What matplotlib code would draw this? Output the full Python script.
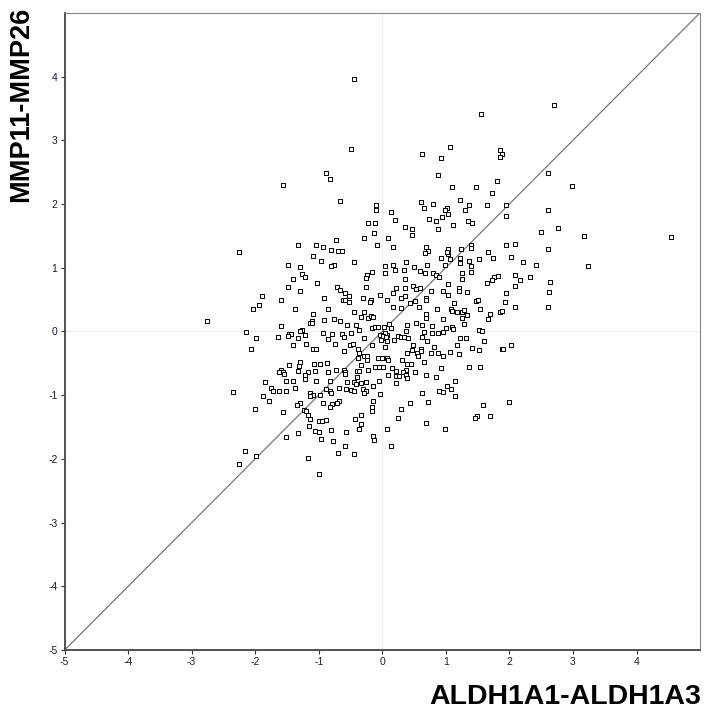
import matplotlib
matplotlib.use("Agg")
import matplotlib.pyplot as plt

plt.rcParams["axes.unicode_minus"] = False
plt.rcParams["font.family"] = ["Liberation Sans", "DejaVu Sans"]

# point coordinates (ALDH1A1-ALDH1A3 vs MMP11-MMP26)
x_vals = [
    -0.44, -0.50, -0.88, -0.83, -1.57, -0.66, -0.10, -0.10, 0.14, 0.20, -0.23, -0.11, 0.36, 0.46,
    2.70, 1.55, 1.07, 0.63, 0.93, 1.86, 1.88, 1.86, 0.87, 2.61, 2.98, 1.10, 1.47, 1.80, 1.73, 1.23,
    0.61, 0.80, 1.37, 1.65, 1.95, 0.66, 1.02, 0.99, 1.30, 2.61, 1.03, 0.94, 1.94, 0.74, 0.84, 1.35,
    1.41, 1.12, 0.88, 2.76,
    -0.13, -0.29, 0.09, -0.73, -0.08, -1.33, -1.05, -0.94, -0.81, -0.69, -0.64, -2.26, -1.09, -0.96,
    -0.44, -1.49, -0.76, -0.80, -1.30, 0.05, -0.16, 0.05, -1.27, -1.21, -0.24, -0.25, -1.40, -1.03,
    -1.48, -0.71, -0.67, -0.26, -1.30, -0.58, -0.53, -0.03, -1.89, -0.91, -0.31, -0.62, -0.58, -0.53,
    -0.18, -0.20, 0.08, -1.60, -1.94, -2.04, -1.38, -0.86, -0.45, -0.28, -1.09, -0.33, -0.22, -0.17,
    -0.15, -0.76, -0.66, -0.92, -1.11, -1.14, -1.10, -0.55, -0.42, -1.60, -0.16, -0.11, -0.06, -0.36,
    -2.15, -1.26, -1.29, -0.94, -0.79, -0.63, -0.50, -1.46, -1.44, -1.49, -1.21, -1.33, -1.64, -1.99,
    -0.86, -0.61, -0.29, -0.03, 0.01, 0.05, 0.08,
    -2.06, -1.20, -1.41, -1.09, -1.05, -0.74, -0.51, -0.46, -0.61, -0.16, -0.38, -0.36, 0.05, -0.29,
    -0.24, -0.38, -0.24, -0.07, -0.01, 0.08, -0.87, -1.08, -0.98, -1.30, -1.31, -1.46, -0.11, -0.05,
    0.01, -0.34, -1.59, -1.57, -1.62, -1.33, -1.17, -1.06, -0.86, -0.73, -0.61, -0.58, -0.59, -0.39,
    -0.37, -0.22, -1.55, -1.22, -1.21, -0.40, -1.52, -1.40, -1.84, -1.05, -0.83, -0.56, -0.44, -0.42,
    -0.33, -0.25, -0.05, -1.75, -1.72, -1.63, -1.51, -1.38, -0.89, -0.68, -0.57, -0.83, -0.80, -0.49,
    -0.44, -0.30, -0.25, -0.29, -0.15, -1.13, -1.09, -1.13, -0.98, -0.04, -2.35, -1.87, -1.78, -0.68,
    -0.72, -0.94, -0.15, -0.16, -0.16, -0.79, -0.83, -1.30, -1.34, -1.23, -1.20, -2.01, -1.56, -1.17,
    -1.13, -1.00, -0.95, -0.89, -0.43, -0.34, -1.15, -0.33, -0.36, -0.81, -1.06, -1.00, -0.57, -1.32,
    -0.96, -1.52, -0.77, -0.14, -0.13, 0.08, -0.59, -2.16, -0.70, -0.44, -1.99, -1.17, -2.26, -0.99,
    -2.76,
    0.47, 0.17, 2.50, 0.68, 0.72, 0.67, 1.03, 1.04, 1.02, 1.24, 1.39, 1.39, 1.66, 1.94, 2.09, 2.61,
    2.02, 1.74, 1.52, 0.92, 1.07, 1.22, 1.22, 0.38, 0.17, 0.71, 0.98, 1.36, 1.39, 1.39, 2.21, 2.42,
    0.50, 0.20, 0.34, 0.59, 0.67, 0.80, 0.85, 0.90, 1.26, 1.26, 0.36, 1.76, 1.82, 1.72, 1.65, 2.09,
    2.16, 2.32, 2.64, 2.09, 1.04, 0.49, 0.53, 0.59, 0.21, 0.35, 0.77, 0.96, 1.21, 1.20, 1.33, 0.17,
    0.36, 0.30, 0.68, 0.69, 1.03, 1.48, 1.51, 1.95, 2.63, 0.52, 1.93, 0.43, 1.13, 0.17, 0.29, 0.58,
    2.09, 2.60, 0.86, 1.08, 1.10, 1.17, 1.25, 1.29, 1.54, 1.85, 1.88, 1.69, 0.68, 1.34, 0.69, 0.96,
    1.26, 1.67, 0.53, 1.29, 0.10, 0.13, 0.02, 0.05, 0.39, 0.38, 0.62, 0.79, 0.65, 0.78, 0.88, 1.00,
    1.10, 1.11, 0.96, 1.52, 1.57,
    0.01, 0.06, -0.02, 0.07, 0.24, 0.29, 0.34, 0.40, 0.19, 0.62, 0.70, 1.22, 1.31, 1.60, 0.48, 0.61,
    0.61, 0.47, 0.81, 1.17, 1.41, 1.52, 1.88, 1.90, 2.03, 0.39, 0.54, 0.56, 0.76, 0.87, 0.95, 1.06,
    1.21, 0.09, 0.31, 0.65, 0.39, 0.45, 0.16, 0.22, 0.21, 0.37, 0.32, 0.51, 0.93, 1.36, 1.54, 0.09,
    0.26, 0.37, 0.39, 0.68, 0.84, 1.14, 0.21, 1.02, 1.08, 0.89, 0.96, 0.62, 1.14, 0.72, 0.43, 1.59,
    1.99, 0.29, 1.49, 1.46, 1.70, 0.24, 0.69, 0.99, 0.13,
    3.17, 4.55, 3.24,
]
y_vals = [
    3.96, 2.87, 2.48, 2.39, 2.30, 2.05, 1.98, 1.90, 1.88, 1.75, 1.70, 1.70, 1.64, 1.61,
    3.56, 3.41, 2.90, 2.79, 2.72, 2.85, 2.79, 2.73, 2.45, 2.49, 2.28, 2.27, 2.27, 2.36, 2.17, 2.07,
    2.03, 2.00, 1.98, 1.98, 1.98, 1.93, 1.93, 1.90, 1.91, 1.90, 1.84, 1.80, 1.81, 1.77, 1.73, 1.73,
    1.70, 1.67, 1.61, 1.62,
    1.55, 1.47, 1.47, 1.44, 1.35, 1.36, 1.36, 1.32, 1.28, 1.27, 1.27, 1.25, 1.19, 1.10,
    1.09, 1.05, 1.05, 1.02, 1.01, 1.03, 0.93, 0.91, 0.90, 0.85, 0.88, 0.84, 0.82, 0.76,
    0.69, 0.69, 0.65, 0.69, 0.63, 0.61, 0.56, 0.57, 0.56, 0.52, 0.53, 0.49, 0.49, 0.47,
    0.49, 0.47, 0.50, 0.49, 0.41, 0.36, 0.36, 0.36, 0.30, 0.30, 0.27, 0.23, 0.21, 0.24,
    0.23, 0.20, 0.17, 0.18, 0.17, 0.13, 0.13, 0.10, 0.10, 0.09, 0.05, 0.07, 0.07, 0.02,
    -0.01, 0.02, 0.00, -0.02, -0.04, -0.04, -0.03, -0.04, -0.04, -0.07, -0.06, -0.10, -0.08, -0.11,
    -0.12, -0.09, -0.11, -0.05, -0.08, -0.10, -0.06,
    -0.27, -0.20, -0.21, -0.28, -0.28, -0.20, -0.21, -0.19, -0.31, -0.22, -0.28, -0.34, -0.24, -0.38,
    -0.38, -0.42, -0.45, -0.42, -0.42, -0.42, -0.49, -0.51, -0.51, -0.48, -0.54, -0.52, -0.55, -0.55,
    -0.55, -0.52, -0.60, -0.63, -0.63, -0.62, -0.64, -0.62, -0.64, -0.61, -0.60, -0.64, -0.67, -0.62,
    -0.62, -0.61, -0.67, -0.69, -0.75, -0.71, -0.78, -0.78, -0.80, -0.78, -0.78, -0.79, -0.79, -0.82,
    -0.81, -0.79, -0.78, -0.88, -0.93, -0.93, -0.93, -0.89, -0.90, -0.88, -0.90, -0.93, -0.97, -0.92,
    -0.94, -0.91, -0.93, -0.97, -0.85, -0.96, -1.00, -1.02, -0.99, -0.98, -0.95, -1.02, -1.09, -1.09,
    -1.12, -1.12, -1.09, -1.19, -1.25, -1.14, -1.19, -1.12, -1.15, -1.23, -1.25, -1.21, -1.26, -1.31,
    -1.37, -1.41, -1.40, -1.39, -1.37, -1.31, -1.48, -1.45, -1.53, -1.54, -1.56, -1.57, -1.57, -1.60,
    -1.69, -1.66, -1.72, -1.64, -1.70, -1.53, -1.79, -1.87, -1.90, -1.93, -1.96, -1.98, -2.08, -2.23,
    0.16,
    1.51, 1.33, 1.56, 1.33, 1.26, 1.23, 1.29, 1.21, 1.25, 1.29, 1.36, 1.31, 1.24, 1.36, 1.37, 1.30,
    1.17, 1.16, 1.14, 1.15, 1.14, 1.15, 1.08, 1.09, 1.05, 1.05, 1.05, 1.10, 1.02, 0.94, 1.09, 1.05,
    1.01, 0.97, 0.97, 0.95, 0.91, 0.91, 0.89, 0.85, 0.92, 0.83, 0.83, 0.86, 0.87, 0.80, 0.76, 0.89,
    0.80, 0.85, 0.77, 0.71, 0.75, 0.72, 0.67, 0.68, 0.68, 0.68, 0.64, 0.64, 0.68, 0.64, 0.62, 0.60,
    0.55, 0.52, 0.53, 0.49, 0.57, 0.48, 0.49, 0.60, 0.62, 0.48, 0.47, 0.44, 0.44, 0.38, 0.37, 0.39,
    0.38, 0.39, 0.35, 0.35, 0.32, 0.30, 0.30, 0.33, 0.35, 0.31, 0.32, 0.28, 0.28, 0.26, 0.21, 0.20,
    0.21, 0.19, 0.14, 0.11, 0.12, 0.06, 0.07, -0.03, 0.10, 0.00, 0.10, 0.08, -0.01, -0.02, -0.02, 0.05,
    0.07, 0.04, -0.01, 0.02, 0.00,
    -0.07, -0.08, -0.13, -0.15, -0.07, -0.08, -0.09, -0.11, -0.14, -0.09, -0.15, -0.11, -0.10, -0.15, -0.21, -0.27,
    -0.30, -0.29, -0.24, -0.22, -0.26, -0.29, -0.27, -0.28, -0.22, -0.34, -0.34, -0.39, -0.34, -0.34, -0.38, -0.32,
    -0.35, -0.44, -0.44, -0.48, -0.51, -0.51, -0.57, -0.62, -0.70, -0.60, -0.63, -0.64, -0.58, -0.56, -0.55, -0.68,
    -0.70, -0.69, -0.73, -0.69, -0.72, -0.77, -0.81, -0.86, -0.90, -0.94, -0.95, -0.96, -1.02, -1.11, -1.12, -1.16,
    -1.11, -1.21, -1.32, -1.36, -1.33, -1.36, -1.44, -1.53, -1.80,
    1.50, 1.48, 1.02,
]
ticks = [-5, -4, -3, -2, -1, 0, 1, 2, 3, 4]

fig = plt.figure(figsize=(7.05, 7.09), dpi=100)
ax = fig.add_axes([0.0915, 0.083, 0.9015, 0.899])

# faint zero cross lines and identity line
ax.axhline(0, color="#eeeeee", lw=0.8, zorder=0)
ax.axvline(0, color="#eeeeee", lw=0.8, zorder=0)
ax.plot([-5, 5], [-5, 5], color="#777777", lw=0.9, zorder=1)

ax.scatter(x_vals, y_vals, marker="s", s=6, facecolors="white",
           edgecolors="black", linewidths=0.7, zorder=2)

ax.set_xlim(-5, 5)
ax.set_ylim(-5, 5)
ax.set_xticks(ticks)
ax.set_yticks(ticks)
ax.tick_params(direction="out", length=3, width=0.8, colors="#333333",
               labelsize=7.5, labelcolor="#1a1a33", pad=2)
for name, sp in ax.spines.items():
    sp.set_color("#444444" if name in ("left", "bottom") else "#888888")
    sp.set_linewidth(1.3 if name in ("left", "bottom") else 0.8)

fig.text(0.03, 0.99, "MMP11-MMP26", rotation=90, ha="center", va="top",
         fontsize=19.5, fontweight="bold")
fig.text(0.995, 0.007, "ALDH1A1-ALDH1A3", ha="right", va="baseline",
         fontsize=20.5, fontweight="bold")

fig.savefig("out.png", dpi=100)
